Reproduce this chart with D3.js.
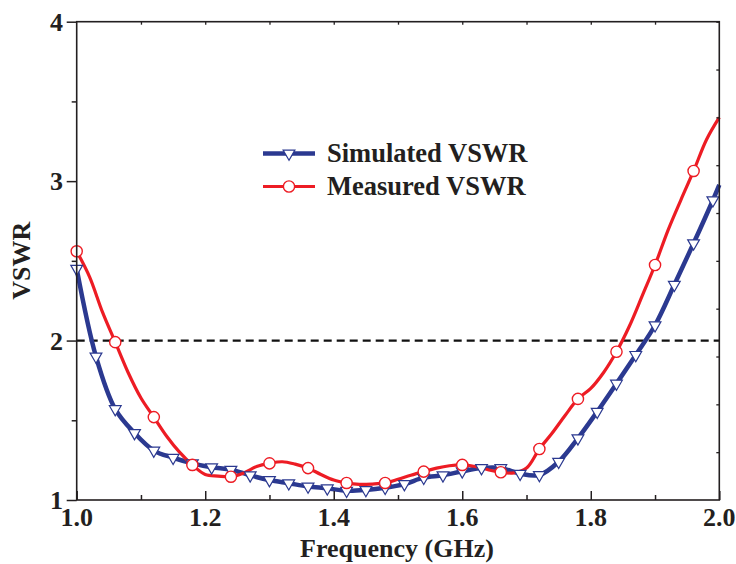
<!DOCTYPE html>
<html>
<head>
<meta charset="utf-8">
<script src="https://cdn.jsdelivr.net/npm/d3@7"></script>
<style>
  body { margin: 0; background: #fff; }
  text { font-family: "Liberation Serif", "Times New Roman", serif; font-weight: bold; fill: #231f20; }
</style>
</head>
<body>
<svg id="chart" width="736" height="564"></svg>
<script>
// measured curve, every 0.02 GHz (markers every 0.06)
const measFreq = [1.00, 1.02, 1.04, 1.06, 1.08, 1.10, 1.12, 1.14, 1.16, 1.18,
  1.20, 1.22, 1.24, 1.26, 1.28, 1.30, 1.32, 1.34, 1.36, 1.38,
  1.40, 1.42, 1.44, 1.46, 1.48, 1.50, 1.52, 1.54, 1.56, 1.58,
  1.60, 1.62, 1.64, 1.66, 1.68, 1.70, 1.72, 1.74, 1.76, 1.78,
  1.80, 1.82, 1.84, 1.86, 1.88, 1.90, 1.92, 1.94, 1.96, 1.98, 2.00];
const measVswr = [2.56, 2.40, 2.18, 1.99, 1.80, 1.64, 1.52, 1.40, 1.30, 1.22,
  1.16, 1.15, 1.146, 1.17, 1.21, 1.23, 1.24, 1.225, 1.20, 1.16,
  1.125, 1.107, 1.098, 1.10, 1.107, 1.13, 1.155, 1.178, 1.20, 1.215,
  1.22, 1.21, 1.19, 1.174, 1.17, 1.20, 1.32, 1.42, 1.53, 1.634,
  1.70, 1.80, 1.93, 2.09, 2.28, 2.474, 2.69, 2.88, 3.064, 3.26, 3.40];

// simulated curve, markers every 0.03 GHz, last point is the end of the line
const simFreq = [1.00, 1.03, 1.06, 1.09, 1.12, 1.15, 1.18, 1.21, 1.24, 1.27,
  1.30, 1.33, 1.36, 1.39, 1.42, 1.45, 1.48, 1.51, 1.54, 1.57,
  1.60, 1.63, 1.66, 1.69, 1.72, 1.75, 1.78, 1.81, 1.84, 1.87,
  1.90, 1.93, 1.96, 1.99, 2.00];
const simVswr = [2.45, 1.90, 1.57, 1.42, 1.31, 1.265, 1.23, 1.205, 1.19, 1.155,
  1.125, 1.105, 1.085, 1.073, 1.058, 1.063, 1.077, 1.10, 1.14, 1.155,
  1.18, 1.20, 1.20, 1.165, 1.157, 1.24, 1.387, 1.554, 1.73, 1.91,
  2.096, 2.35, 2.61, 2.88, 2.976];

const xTicks = [1.0, 1.2, 1.4, 1.6, 1.8, 2.0];
const yTicks = [1, 2, 3, 4];
const refLevel = 2;

const svg = d3.select('#chart');
const plotL = 76.7, plotR = 719.3, plotT = 21.7, plotB = 500;

const x = d3.scaleLinear().domain([1, 2]).range([plotL, plotR]);
const y = d3.scaleLinear().domain([1, 4]).range([plotB, plotT]);

const blue = '#2b3990';
const red = '#ed1c24';

// reference line at VSWR = 2
svg.append('line')
  .attr('x1', x(1)).attr('x2', x(2))
  .attr('y1', y(refLevel)).attr('y2', y(refLevel))
  .attr('stroke', '#111').attr('stroke-width', 2.2)
  .attr('stroke-dasharray', '8,5');

const line = d3.line()
  .x((d) => x(d[0]))
  .y((d) => y(d[1]))
  .curve(d3.curveCatmullRom.alpha(0.5));

const simData = simFreq.map((f, i) => [f, simVswr[i]]);
const measData = measFreq.map((f, i) => [f, measVswr[i]]);

svg.append('path')
  .datum(simData)
  .attr('d', line)
  .attr('fill', 'none')
  .attr('stroke', blue)
  .attr('stroke-width', 4.5);

svg.append('path')
  .datum(measData)
  .attr('d', line)
  .attr('fill', 'none')
  .attr('stroke', red)
  .attr('stroke-width', 3.2);

const tri = d3.symbol().type(d3.symbolTriangle).size(60);

svg.selectAll('.sim-pt')
  .data(simData.slice(0, -1))
  .enter()
    .append('path')
    .attr('class', 'sim-pt')
    .attr('d', tri)
    .attr('transform', (d) => `translate(${x(d[0])},${y(d[1])}) rotate(180)`)
    .attr('fill', '#fff')
    .attr('stroke', blue)
    .attr('stroke-width', 1.2);

svg.selectAll('.meas-pt')
  .data(measData.filter((d, i) => i % 3 === 0 && i < measData.length - 1))
  .enter()
    .append('circle')
    .attr('class', 'meas-pt')
    .attr('cx', (d) => x(d[0]))
    .attr('cy', (d) => y(d[1]))
    .attr('r', 5.6)
    .attr('fill', '#fff')
    .attr('stroke', red)
    .attr('stroke-width', 1.4);

// frame
svg.append('rect')
  .attr('x', plotL).attr('y', plotT)
  .attr('width', plotR - plotL).attr('height', plotB - plotT)
  .attr('fill', 'none').attr('stroke', '#231f20').attr('stroke-width', 1.6);

// bottom axis: ticks point inward
const xAxis = svg.append('g').attr('transform', `translate(0,${plotB})`)
  .call(d3.axisTop(x).tickValues(d3.range(1, 2.001, 0.1)).tickSize(5).tickFormat(''));
xAxis.select('.domain').remove();
xAxis.selectAll('.tick line')
  .attr('y2', (d) => (Math.round(d * 10) % 2 === 0 ? -9 : -5))
  .attr('stroke', '#231f20').attr('stroke-width', 1.5);

svg.selectAll('.xlab')
  .data(xTicks)
  .enter()
    .append('text')
    .attr('class', 'xlab')
    .attr('x', (d) => x(d))
    .attr('y', 526)
    .attr('text-anchor', 'middle')
    .attr('font-size', 26)
    .text((d) => d.toFixed(1));

// left axis: ticks point outward
const yAxis = svg.append('g').attr('transform', `translate(${plotL},0)`)
  .call(d3.axisLeft(y).tickValues(d3.range(1, 4.001, 0.5)).tickSize(10).tickFormat(''));
yAxis.select('.domain').remove();
yAxis.selectAll('.tick line')
  .attr('x2', (d) => (d % 1 === 0 ? -10 : -5))
  .attr('stroke', '#231f20').attr('stroke-width', 1.5);

svg.selectAll('.ylab')
  .data(yTicks)
  .enter()
    .append('text')
    .attr('class', 'ylab')
    .attr('x', 63)
    .attr('y', (d) => y(d) + 9)
    .attr('text-anchor', 'end')
    .attr('font-size', 26)
    .text((d) => d);

// top and right minor ticks (inward)
const topAxis = svg.append('g').attr('transform', `translate(0,${plotT})`)
  .call(d3.axisBottom(x).tickValues(d3.range(1.1, 2, 0.1)).tickSize(3).tickFormat(''));
topAxis.select('.domain').remove();
topAxis.selectAll('.tick line').attr('stroke', '#231f20').attr('stroke-width', 1.3);

const rightAxis = svg.append('g').attr('transform', `translate(${plotR},0)`)
  .call(d3.axisLeft(y).tickValues(d3.range(1.3, 4, 0.3)).tickSize(3).tickFormat(''));
rightAxis.select('.domain').remove();
rightAxis.selectAll('.tick line').attr('stroke', '#231f20').attr('stroke-width', 1.3);

// axis titles
svg.append('text')
  .attr('x', 397)
  .attr('y', 557)
  .attr('text-anchor', 'middle')
  .attr('font-size', 26)
  .text('Frequency (GHz)');

svg.append('text')
  .attr('transform', `translate(30,${y(2.5)}) rotate(-90)`)
  .attr('text-anchor', 'middle')
  .attr('font-size', 26)
  .text('VSWR');

// legend
const legend = [
  { label: 'Simulated VSWR', color: blue, width: 4.5, y: 153.5, mark: 'tri' },
  { label: 'Measured VSWR', color: red, width: 3.2, y: 186.5, mark: 'circle' }
];

legend.forEach((d) => {
  svg.append('line')
    .attr('x1', 263).attr('x2', 315)
    .attr('y1', d.y).attr('y2', d.y)
    .attr('stroke', d.color).attr('stroke-width', d.width);
  if (d.mark === 'tri') {
    svg.append('path')
      .attr('d', tri)
      .attr('transform', `translate(289,${d.y}) rotate(180)`)
      .attr('fill', '#fff').attr('stroke', d.color).attr('stroke-width', 1.2);
  } else {
    svg.append('circle')
      .attr('cx', 289).attr('cy', d.y).attr('r', 5.6)
      .attr('fill', '#fff').attr('stroke', d.color).attr('stroke-width', 1.4);
  }
  svg.append('text')
    .attr('x', 327)
    .attr('y', d.y + 8.5)
    .attr('font-size', 26.5)
    .text(d.label);
});
</script>
</body>
</html>
